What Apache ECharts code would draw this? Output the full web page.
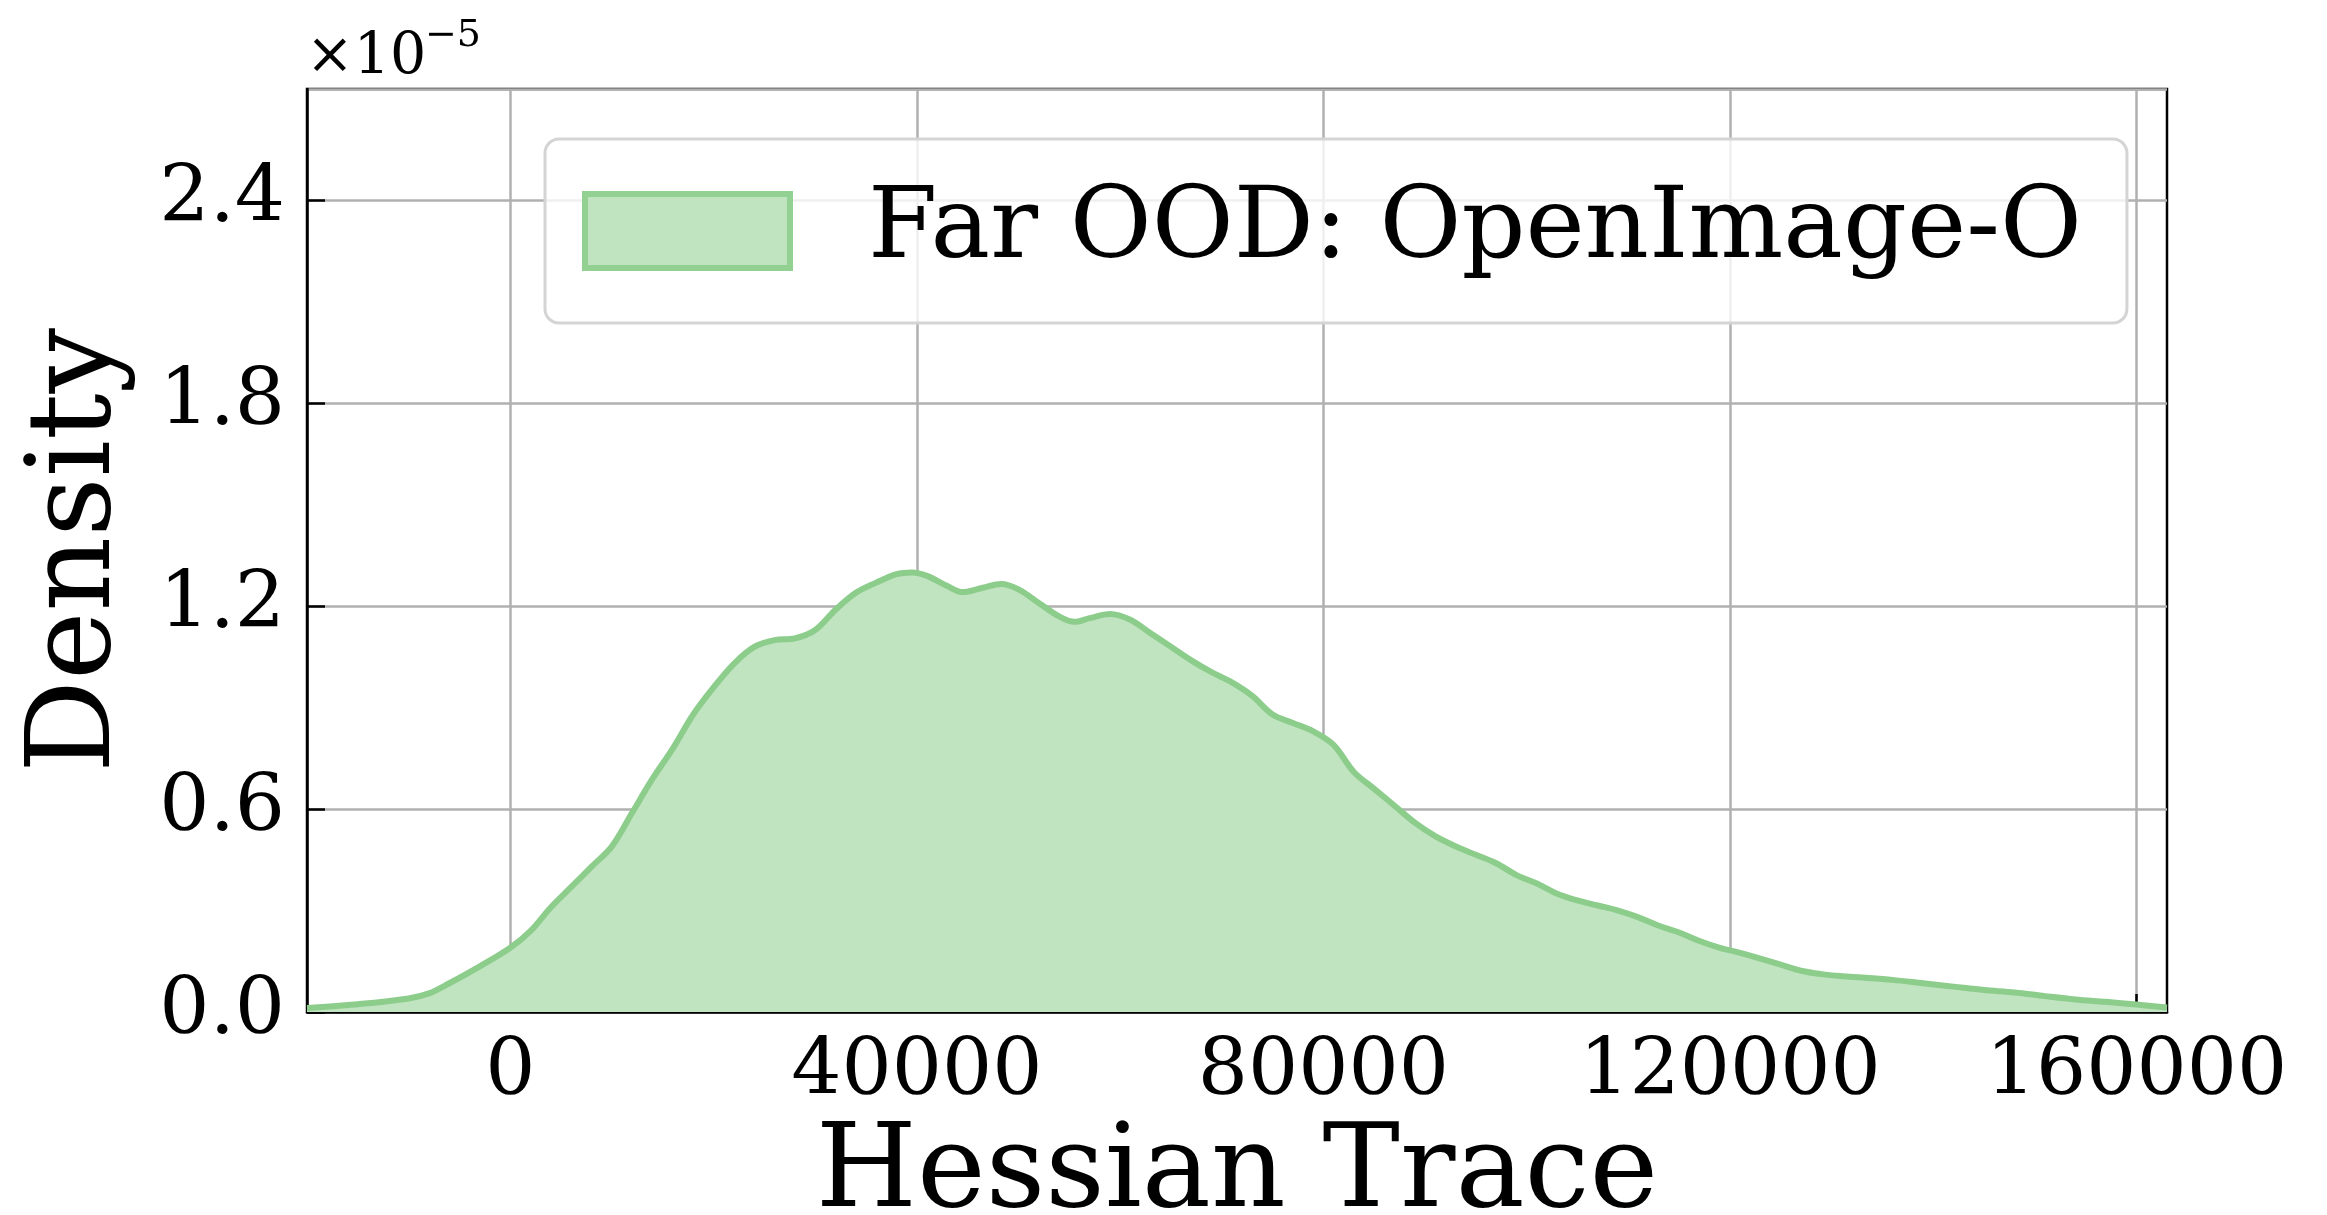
<!DOCTYPE html>
<html>
<head>
<meta charset="utf-8">
<script src="https://cdn.jsdelivr.net/npm/echarts@6/dist/echarts.min.js"></script>
<style>
html,body{margin:0;padding:0;background:#fff;}
#chart{width:2327px;height:1215px;}
</style>
</head>
<body>
<div id="chart"></div>
<script>
// Hessian trace values (x) and KDE density in units of 1e-5 (y)
const hessianTrace = [
  -20000, -15000, -10000, -8000, -6000, -3000, 0, 2000, 4000, 6000, 8000, 10000,
  12000, 14000, 16000, 18000, 20000, 22000, 24000, 26000, 28000, 30000, 32000,
  34000, 36000, 38000, 39500, 41000, 43000, 44500, 46500, 48300, 50000, 52000,
  54000, 55500, 57000, 59000, 61000, 63000, 65000, 67000, 69000, 71000, 73000,
  75000, 77000, 79000, 81000, 83000, 85000, 87000, 89000, 91000, 93000, 95000,
  97000, 99000, 101000, 103000, 105000, 107000, 109000, 111000, 113000, 115000,
  117000, 119000, 121000, 123000, 125000, 127000, 129000, 131000, 133000, 136000,
  139000, 142000, 145000, 148000, 151000, 154000, 157000, 160000, 163000
];
const density = [
  0.012, 0.023, 0.040, 0.055, 0.085, 0.135, 0.19, 0.24, 0.31, 0.37, 0.43, 0.49,
  0.59, 0.69, 0.78, 0.88, 0.96, 1.03, 1.08, 1.10, 1.105, 1.13, 1.19,
  1.24, 1.27, 1.295, 1.30, 1.29, 1.26, 1.242, 1.255, 1.266, 1.25, 1.21,
  1.17, 1.154, 1.165, 1.177, 1.16, 1.12, 1.08, 1.04, 1.005, 0.975, 0.935,
  0.88, 0.855, 0.83, 0.79, 0.71, 0.66, 0.61, 0.56, 0.52, 0.49, 0.465,
  0.44, 0.405, 0.38, 0.35, 0.33, 0.315, 0.30, 0.28, 0.255, 0.235,
  0.21, 0.19, 0.175, 0.158, 0.14, 0.122, 0.112, 0.106, 0.102, 0.095,
  0.085, 0.075, 0.065, 0.058, 0.047, 0.037, 0.030, 0.022, 0.013
];
const xTicks = [0, 40000, 80000, 120000, 160000];
const seriesName = 'Far OOD: OpenImage-O';
const xTitle = 'Hessian Trace';
const yTitle = 'Density';

const FONT = 'DejaVu Serif';
const points = hessianTrace.map((x, i) => [x, density[i]]);

const chart = echarts.init(document.getElementById('chart'), null, {renderer: 'canvas'});
chart.setOption({
  backgroundColor: '#ffffff',
  animation: false,
  textStyle: {fontFamily: FONT, color: '#000'},
  grid: {
    left: 307, right: 160, top: 89, bottom: 203,
    outerBoundsMode: 'none', containLabel: false,
    show: true, borderColor: '#000', borderWidth: 2.5, backgroundColor: 'transparent'
  },
  legend: {
    show: true,
    left: 545, top: 139,
    padding: [42, 45, 42, 37],
    backgroundColor: 'rgba(255,255,255,0.8)',
    borderColor: '#d4d4d4', borderWidth: 3, borderRadius: 14,
    itemWidth: 205, itemHeight: 74,
    textStyle: {fontFamily: FONT, fontSize: 100, color: '#000', lineHeight: 92, padding: [0, 0, 0, 73]},
    data: [{
      name: seriesName, icon: 'rect',
      itemStyle: {color: '#c0e3c0', borderColor: '#93d193', borderWidth: 6}
    }]
  },
  xAxis: {
    type: 'value',
    min: -20000, max: 163000,
    name: xTitle, nameLocation: 'middle', nameGap: 105,
    nameTextStyle: {fontFamily: FONT, fontSize: 116, color: '#000'},
    axisLine: {show: true, onZero: false, lineStyle: {color: '#000', width: 2.5}},
    axisTick: {show: true, inside: true, length: 18, customValues: xTicks, lineStyle: {color: '#000', width: 2.5}},
    axisLabel: {show: true, customValues: xTicks, margin: 22, fontFamily: FONT, fontSize: 79, color: '#000',
      formatter: v => String(Math.round(v))},
    splitLine: {show: true, lineStyle: {color: '#b0b0b0', width: 2.5}}
  },
  yAxis: {
    type: 'value',
    min: 0, max: 2.73, interval: 0.6,
    name: yTitle, nameLocation: 'middle', nameGap: 170, nameRotate: 90,
    nameTextStyle: {fontFamily: FONT, fontSize: 116, color: '#000'},
    axisLine: {show: true, onZero: false, lineStyle: {color: '#000', width: 2.5}},
    axisTick: {show: true, inside: true, length: 18, lineStyle: {color: '#000', width: 2.5}},
    axisLabel: {show: true, margin: 22, fontFamily: FONT, fontSize: 79, color: '#000',
      showMaxLabel: false, formatter: v => v.toFixed(1)},
    splitLine: {show: true, lineStyle: {color: '#b0b0b0', width: 2.5}}
  },
  series: [{
    name: seriesName,
    type: 'line',
    data: points,
    smooth: 0.35,
    showSymbol: false,
    symbol: 'none',
    clip: true,
    lineStyle: {color: '#8ccd8c', width: 6},
    itemStyle: {color: '#c0e3c0'},
    areaStyle: {color: '#c0e3c0', opacity: 1},
    z: 3
  }],
  graphic: [
    {type: 'text', left: 306, top: 30, z: 10,
      style: {text: '×10', fontFamily: FONT, fontSize: 57, fill: '#000'}},
    {type: 'text', left: 425, top: 17, z: 10,
      style: {text: '−5', fontFamily: FONT, fontSize: 38, fill: '#000'}}
  ]
});
</script>
</body>
</html>
